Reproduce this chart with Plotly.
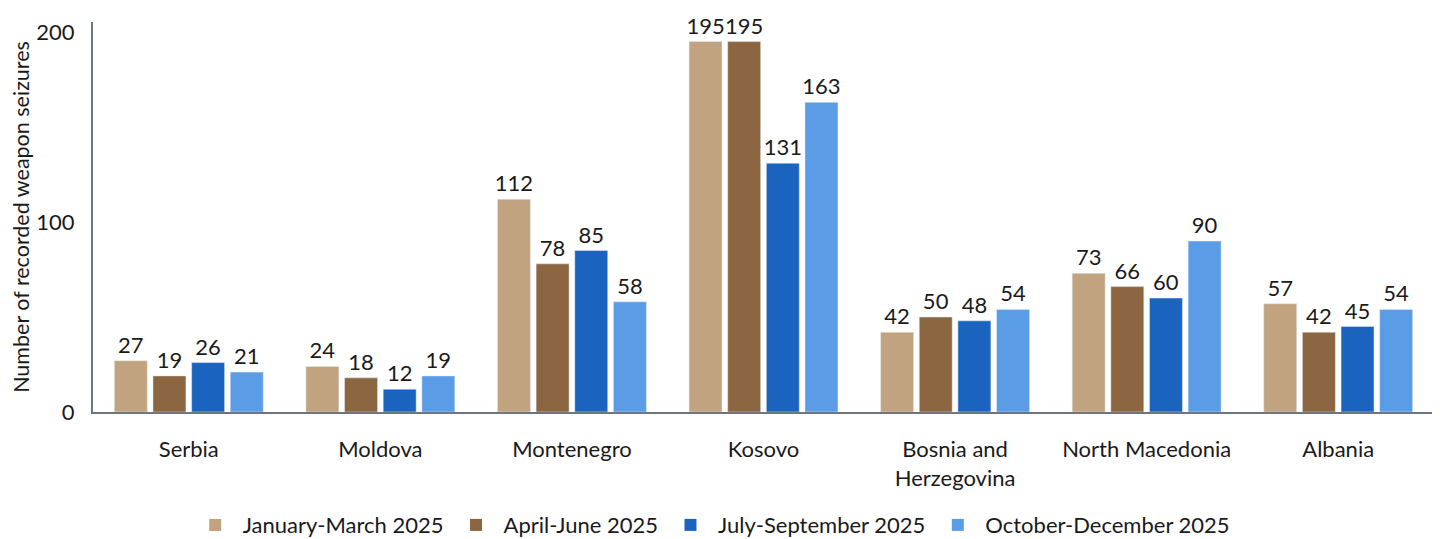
import plotly.graph_objects as go

categories = ["Serbia", "Moldova", "Montenegro", "Kosovo", "Bosnia and<br>Herzegovina", "North Macedonia", "Albania"]
series_names = ["January-March 2025", "April-June 2025", "July-September 2025", "October-December 2025"]
q1 = [27, 24, 112, 195, 42, 73, 57]
q2 = [19, 18, 78, 195, 50, 66, 42]
q3 = [26, 12, 85, 131, 48, 60, 45]
q4 = [21, 19, 58, 163, 54, 90, 54]
colors = ["#C2A37F", "#8B6640", "#1A64C0", "#5B9CE6"]

fig = go.Figure()
for name, vals, col in zip(series_names, [q1, q2, q3, q4], colors):
    fig.add_trace(go.Bar(
        name=name, x=categories, y=vals, marker_color=col,
        text=vals, textposition="outside", constraintext="none", cliponaxis=False,
        textfont=dict(size=22, color="#1a1a1a", family="Lato"),
        showlegend=False,
    ))
# legend entries with larger square swatches
for name, col in zip(series_names, colors):
    fig.add_trace(go.Scatter(
        name=name, x=[None], y=[None], mode="markers",
        marker=dict(symbol="square", size=21, color=col),
        showlegend=True,
    ))

fig.update_layout(
    width=1432, height=531,
    margin=dict(l=85, r=6, t=14, b=127, autoexpand=False),
    plot_bgcolor="white", paper_bgcolor="white",
    barmode="group", bargap=0.193, bargroupgap=0.147,
    font=dict(family="Lato", size=21, color="#1a1a1a"),
    legend=dict(orientation="h", x=0.461, xanchor="center", y=-0.29, yanchor="middle",
                font=dict(size=22), itemsizing="constant", traceorder="normal",
                itemwidth=45),
)
fig.update_yaxes(range=[0, 205.3], tickvals=[0, 100, 200], showgrid=False, zeroline=False,
                 showline=True, linecolor="#6E7480", linewidth=2, ticks="",
                 automargin=False, ticklabelstandoff=12,
                 title=dict(text="Number of recorded weapon seizures", font=dict(size=21.5), standoff=10),
                 tickfont=dict(size=22))
fig.update_xaxes(showline=True, linecolor="#6E7480", linewidth=2, ticks="", showgrid=False,
                 automargin=False, ticklabelstandoff=17,
                 tickfont=dict(size=22))

fig.write_html("out.html")
